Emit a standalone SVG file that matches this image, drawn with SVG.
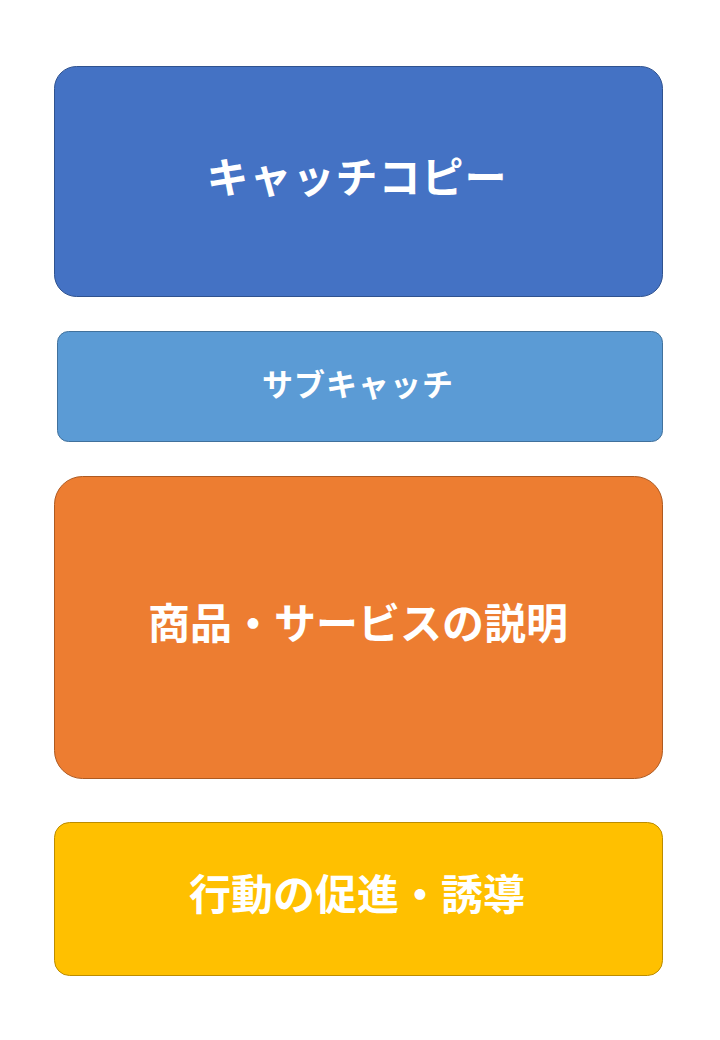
<svg xmlns="http://www.w3.org/2000/svg" width="720" height="1040" viewBox="0 0 720 1040">
<style>
.lbl{font-family:"Noto Sans CJK JP","Noto Sans CJK SC",sans-serif;font-weight:700;fill:#FFFFFF;text-anchor:middle;dominant-baseline:central}
.box{stroke-width:1}
</style>
<rect width="720" height="1040" fill="#FFFFFF"/>
<g id="catch-copy">
<rect class="box" x="54.5" y="66.5" width="608" height="230" rx="22" ry="22" fill="#4472C4" stroke="#2F528F"/>
<text class="lbl" x="357" y="174" font-size="42" letter-spacing="1">キャッチコピー</text>
</g>
<g id="sub-catch">
<rect class="box" x="57.5" y="331.5" width="605" height="110" rx="11" ry="11" fill="#5B9BD5" stroke="#41719C"/>
<text class="lbl" x="358" y="382" font-size="31" letter-spacing="1">サブキャッチ</text>
</g>
<g id="description">
<rect class="box" x="54.5" y="476.5" width="608" height="302" rx="28" ry="28" fill="#ED7D31" stroke="#AE5A21"/>
<text class="lbl" x="358" y="620" font-size="42">商品・サービスの説明</text>
</g>
<g id="call-to-action">
<rect class="box" x="54.5" y="822.5" width="608" height="153" rx="15" ry="15" fill="#FFC000" stroke="#BC8C00"/>
<text class="lbl" x="357" y="891" font-size="42">行動の促進・誘導</text>
</g>
<g id="connectors"></g>
</svg>
